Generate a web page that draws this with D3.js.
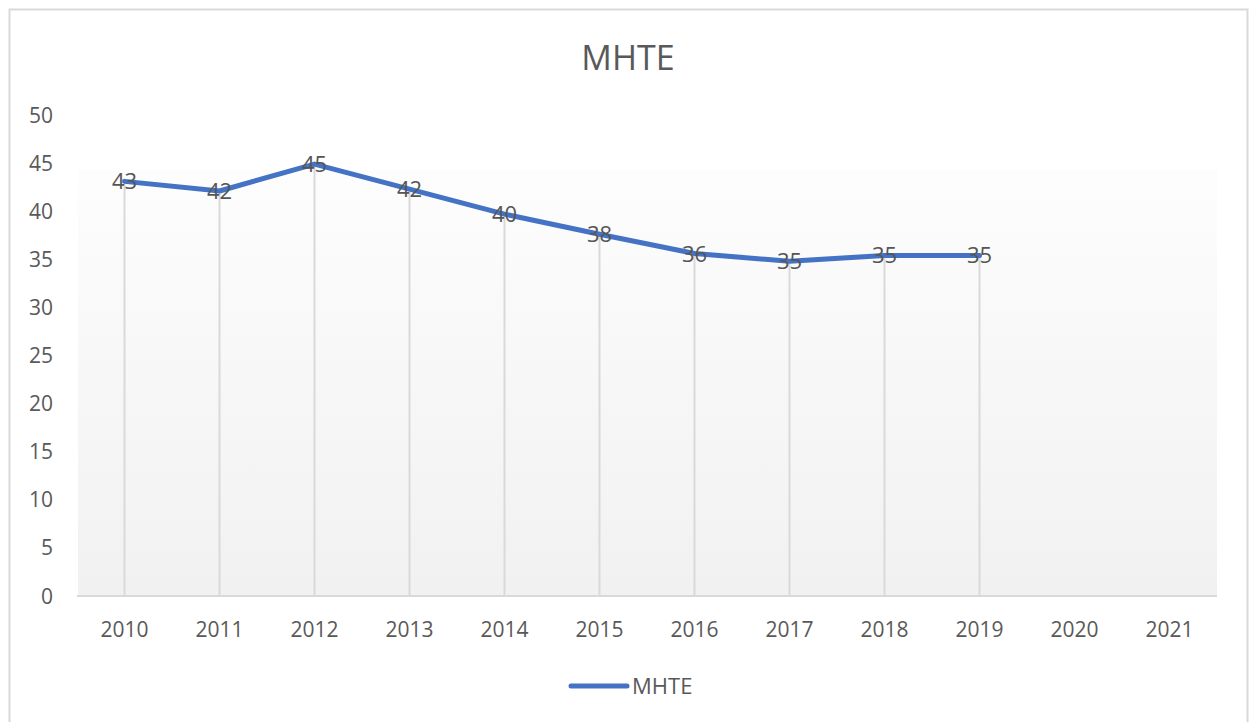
<!DOCTYPE html>
<html>
<head>
<meta charset="utf-8">
<script src="https://cdn.jsdelivr.net/npm/d3@7"></script>
<style>
  body { margin: 0; background: #fff; }
  text { font-family: "Open Sans", "Liberation Sans", sans-serif; fill: #595959; }
</style>
</head>
<body>
<script>
var years = ["2010", "2011", "2012", "2013", "2014", "2015", "2016", "2017", "2018", "2019", "2020", "2021"];
var mhte = [43.1, 42.1, 44.9, 42.3, 39.7, 37.6, 35.6, 34.8, 35.4, 35.4, null, null];
var yTicks = [0, 5, 10, 15, 20, 25, 30, 35, 40, 45, 50];

var width = 1254, height = 722;
var svg = d3.select("body").append("svg")
  .attr("width", width)
  .attr("height", height);

// outer chart border
svg.append("rect")
  .attr("x", 9.5).attr("y", 9.5)
  .attr("width", 1238).attr("height", 730)
  .attr("fill", "#fff")
  .attr("stroke", "#d9d9d9")
  .attr("stroke-width", 2);

var x = d3.scaleBand().domain(years).range([77, 1217]);
var y = d3.scaleLinear().domain([0, 50]).range([596, 115]);

var defs = svg.append("defs");
var grad = defs.append("linearGradient")
  .attr("id", "plotGrad")
  .attr("x1", 0).attr("y1", 0).attr("x2", 0).attr("y2", 1);
grad.append("stop").attr("offset", "0%").attr("stop-color", "#fdfdfd");
grad.append("stop").attr("offset", "100%").attr("stop-color", "#f1f1f1");

// plot area fill
svg.append("rect")
  .attr("x", 78).attr("y", 170)
  .attr("width", 1139).attr("height", 596 - 170)
  .attr("fill", "url(#plotGrad)");

// title
svg.append("text")
  .attr("x", width / 2 + 1).attr("y", 70)
  .attr("text-anchor", "middle")
  .style("font-size", "34px")
  .text("MHTE");

// y axis labels
svg.selectAll(".ytick").data(yTicks).enter()
  .append("text")
  .attr("class", "ytick")
  .attr("x", 53)
  .attr("y", d => y(d) + 7.5)
  .attr("text-anchor", "end")
  .style("font-size", "21px")
  .text(d => d);

var pts = years.map((yr, i) => ({ year: yr, v: mhte[i] })).filter(d => d.v != null);
var cx = d => x(d.year) + x.bandwidth() / 2;

// drop lines
svg.selectAll(".drop").data(pts).enter()
  .append("line")
  .attr("class", "drop")
  .attr("x1", cx).attr("x2", cx)
  .attr("y1", d => y(d.v)).attr("y2", y(0))
  .attr("stroke", "#d9d9d9")
  .attr("stroke-width", 2);

// x axis line
svg.append("line")
  .attr("x1", 77).attr("x2", 1217)
  .attr("y1", y(0)).attr("y2", y(0))
  .attr("stroke", "#d9d9d9")
  .attr("stroke-width", 2);

// x labels
svg.selectAll(".xtick").data(years).enter()
  .append("text")
  .attr("class", "xtick")
  .attr("x", d => x(d) + x.bandwidth() / 2)
  .attr("y", 637)
  .attr("text-anchor", "middle")
  .style("font-size", "21px")
  .text(d => d);

// the line
var line = d3.line()
  .x(cx)
  .y(d => y(d.v));

svg.append("path")
  .datum(pts)
  .attr("d", line)
  .attr("fill", "none")
  .attr("stroke", "#4472c4")
  .attr("stroke-width", 5)
  .attr("stroke-linejoin", "round")
  .attr("stroke-linecap", "round");

// data labels
svg.selectAll(".lbl").data(pts).enter()
  .append("text")
  .attr("class", "lbl")
  .attr("x", cx)
  .attr("y", d => y(d.v) + 8)
  .attr("text-anchor", "middle")
  .style("font-size", "22px")
  .style("fill", "#555")
  .text(d => d3.format(".0f")(d.v));

// legend
svg.append("line")
  .attr("x1", 571).attr("x2", 627)
  .attr("y1", 686).attr("y2", 686)
  .attr("stroke", "#4472c4")
  .attr("stroke-width", 5)
  .attr("stroke-linecap", "round");
svg.append("text")
  .attr("x", 632).attr("y", 694)
  .style("font-size", "22px")
  .text("MHTE");
</script>
</body>
</html>
